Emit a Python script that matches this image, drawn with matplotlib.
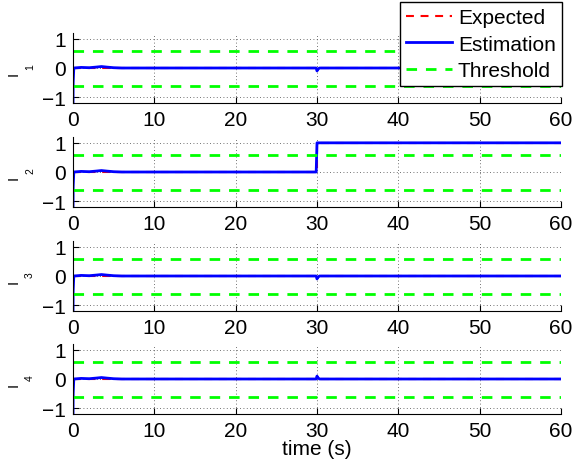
import numpy as np
import matplotlib
matplotlib.use("Agg")
import matplotlib.pyplot as plt

plt.rcParams["font.family"] = ["Liberation Sans", "DejaVu Sans"]

# ── data ──────────────────────────────────────────────────────────────────────
t_est = [0.0, 0.02, 0.1, 1.0, 2.0, 2.8, 3.5, 4.2, 5.0, 6.0, 29.9, 30.0, 30.1, 30.3, 60.0]
I1_est = [-1.3, -0.5, 0.0, 0.02, 0.01, 0.03, 0.05, 0.03, 0.01, 0.0, 0.0, -0.1, -0.05, 0.0, 0.0]
I2_est = [-1.3, -0.5, 0.0, 0.02, 0.01, 0.03, 0.05, 0.03, 0.01, 0.0, 0.0, 1.0, 1.0, 1.0, 1.0]
I3_est = [-1.3, -0.5, 0.0, 0.02, 0.01, 0.03, 0.05, 0.03, 0.01, 0.0, 0.0, -0.1, -0.05, 0.0, 0.0]
I4_est = [-1.3, -0.5, 0.0, 0.02, 0.01, 0.03, 0.05, 0.03, 0.01, 0.0, 0.0, 0.1, 0.05, 0.0, 0.0]

t_exp = [0.0, 30.0, 30.0, 60.0]
I1_exp = [0, 0, 0, 0]
I2_exp = [0, 0, 1, 1]
I3_exp = [0, 0, 0, 0]
I4_exp = [0, 0, 0, 0]

THRESH = 0.6
XTICKS = [0, 10, 20, 30, 40, 50, 60]
YTICKS = [-1, 0, 1]
subs = ["1", "2", "3", "4"]
est = [I1_est, I2_est, I3_est, I4_est]
exp = [I1_exp, I2_exp, I3_exp, I4_exp]

# ── layout (pixel-measured) ───────────────────────────────────────────────────
W, H = 573, 464
fig = plt.figure(figsize=(W / 100, H / 100), dpi=100)
tops = [34, 138, 242, 345]
ax_h = 70
left, right = 73, 561

FS = 15
DASH = (0, (3.8, 3.2))
handles = None
for i in range(4):
    ax = fig.add_axes([left / W, 1 - (tops[i] + ax_h) / H, (right - left) / W, ax_h / H])
    h_exp, = ax.plot(t_exp, exp[i], color="red", lw=1.5, ls=DASH, label="Expected")
    h_est, = ax.plot(t_est, est[i], color="#0000ff", lw=2, label="Estimation")
    h_thr, = ax.plot([0, 60], [THRESH, THRESH], color="#00ff00", lw=2, ls=DASH,
                     label="Threshold")
    ax.plot([0, 60], [-THRESH, -THRESH], color="#00ff00", lw=2, ls=DASH)
    handles = [h_exp, h_est, h_thr]

    ax.set_xlim(0, 60)
    ax.set_ylim(-1.2, 1.2)
    ax.set_xticks(XTICKS)
    ax.set_yticks(YTICKS)
    ax.set_yticklabels(["\u22121", "0", "1"])
    ax.tick_params(direction="in", length=4, labelsize=FS, width=0.8, pad=5)
    ax.grid(True, ls=(0, (1, 3)), color="#444444", lw=0.6)
    ax.spines["top"].set_visible(False)
    ax.spines["right"].set_visible(False)

    # y label "I" with a dropped subscript, rotated like MATLAB's
    yc = tops[i] + ax_h / 2
    fig.text(18 / W, 1 - (yc + 5) / H, "I", fontsize=10.5, rotation=90,
             rotation_mode="anchor", ha="center", va="baseline")
    fig.text(33 / W, 1 - (yc - 2) / H, subs[i], fontsize=7.5, rotation=90,
             rotation_mode="anchor", ha="center", va="baseline")

    if i == 3:
        ax.set_xlabel("time (s)", fontsize=FS, labelpad=-1)

fig.legend(handles, ["Expected", "Estimation", "Threshold"],
           loc="upper right", bbox_to_anchor=(562 / W, 1 - 3 / H),
           borderaxespad=0, fontsize=FS, fancybox=False, framealpha=1,
           edgecolor="black", labelspacing=0.35, handlelength=2.2,
           handletextpad=0.3, borderpad=0.3)

fig.savefig("out.png", dpi=100)
